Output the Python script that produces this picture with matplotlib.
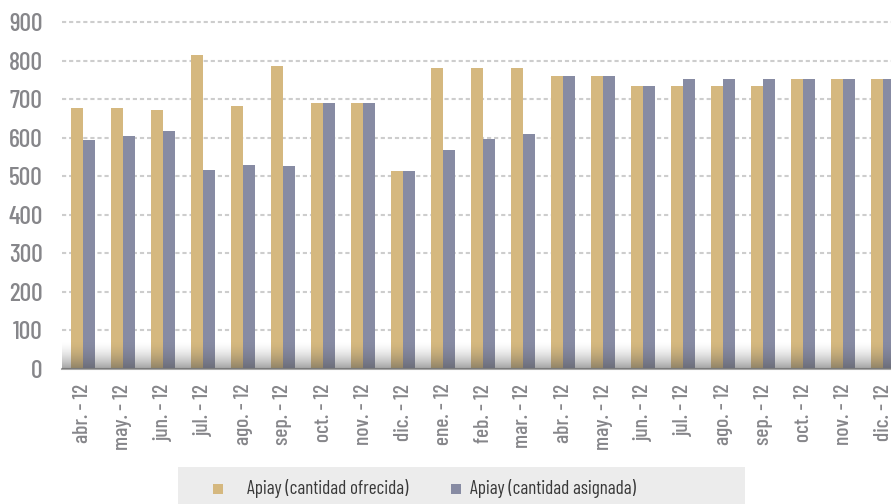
import matplotlib
matplotlib.use("Agg")
import matplotlib.pyplot as plt
import numpy as np
from matplotlib.patches import Rectangle
from matplotlib import font_manager


def pick_font(keys):
    files = [f.fname for f in font_manager.fontManager.ttflist]
    for key in keys:
        for fn in files:
            if key in fn:
                return font_manager.FontProperties(fname=fn)
    return font_manager.FontProperties(family="DejaVu Sans")


font_axis = pick_font(("BarlowCondensed-Medium", "BarlowCondensed-Regular", "DejaVuSansCondensed.ttf"))
font_legend = pick_font(("BarlowCondensed-Regular", "DejaVuSansCondensed.ttf"))

categories = ["abr. - 12", "may. - 12", "jun. - 12", "jul. - 12", "ago. - 12", "sep. - 12",
              "oct. - 12", "nov. - 12", "dic. - 12", "ene. - 12", "feb. - 12", "mar. - 12",
              "abr. - 12", "may. - 12", "jun. - 12", "jul. - 12", "ago. - 12", "sep. - 12",
              "oct. - 12", "nov. - 12", "dic. - 12"]
ofrecida = [676, 676, 671, 814, 681, 786, 689, 689, 512, 780, 780, 780,
            760, 760, 733, 733, 733, 733, 752, 752, 752]
asignada = [593, 603, 616, 517, 530, 525, 689, 689, 512, 567, 595, 608,
            760, 760, 733, 752, 752, 752, 752, 752, 752]
yticks = [0, 100, 200, 300, 400, 500, 600, 700, 800, 900]
series_names = ["Apiay (cantidad ofrecida)", "Apiay (cantidad asignada)"]

gold = "#d5b87f"
blue = "#878ba3"
text_gray = "#86868a"

W, H = 891, 504
fig = plt.figure(figsize=(W / 100, H / 100), dpi=100)
ax = fig.add_axes([62 / W, (H - 368.7) / H, 829 / W, 354.4 / H])

x = np.arange(len(categories))
bw = 0.29
ax.bar(x - bw / 2, ofrecida, width=bw, color=gold, zorder=2)
ax.bar(x + bw / 2, asignada, width=bw, color=blue, zorder=2)

ax.set_yticks(yticks)
ax.set_xticks(x)
ax.set_xticklabels(categories, rotation=90, color=text_gray)
ax.set_yticklabels([str(v) for v in yticks], color=text_gray)
for t in ax.get_xticklabels():
    t.set_fontproperties(font_axis)
    t.set_fontsize(15.5)
for t in ax.get_yticklabels():
    t.set_fontproperties(font_axis)
    t.set_fontsize(18.5)
ax.tick_params(axis="both", length=0)
ax.tick_params(axis="y", pad=14)
ax.tick_params(axis="x", pad=11)

ax.yaxis.grid(True, linestyle=(0, (2, 1.4)), linewidth=1.5, color="#cdcdcd", zorder=1)
ax.set_axisbelow(True)
for s in ["top", "right", "left"]:
    ax.spines[s].set_visible(False)
ax.spines["bottom"].set_color("#a8a8a8")
ax.spines["bottom"].set_linewidth(1.5)

# shaded floor at the base of the bars
rgba = np.zeros((64, 1, 4))
rgba[..., :3] = 0.33
rgba[..., 3] = (np.linspace(1, 0, 64) ** 1.6).reshape(-1, 1) * 0.55
ax.imshow(rgba, extent=[-0.525, 20.2, 0, 72], origin="lower", aspect="auto",
          zorder=3, interpolation="bilinear")
ax.set_xlim(-0.525, 20.2)
ax.set_ylim(0, 920)

# legend band
fig.patches.append(Rectangle((178 / W, 0), (745 - 178) / W, (H - 467) / H,
                             transform=fig.transFigure, facecolor="#ececec",
                             edgecolor="none", zorder=0))
ly = (H - 489) / H
for px, col, label, tx in [(213, gold, series_names[0], 247), (451, blue, series_names[1], 470)]:
    fig.patches.append(Rectangle((px / W, ly - 5 / H), 10 / W, 10 / H,
                                 transform=fig.transFigure, facecolor=col,
                                 edgecolor="none", zorder=1))
    fig.text(tx / W, ly, label, fontproperties=font_legend, fontsize=13.7, color="#383838",
             va="center", ha="left")

fig.savefig("out.png", dpi=100)
